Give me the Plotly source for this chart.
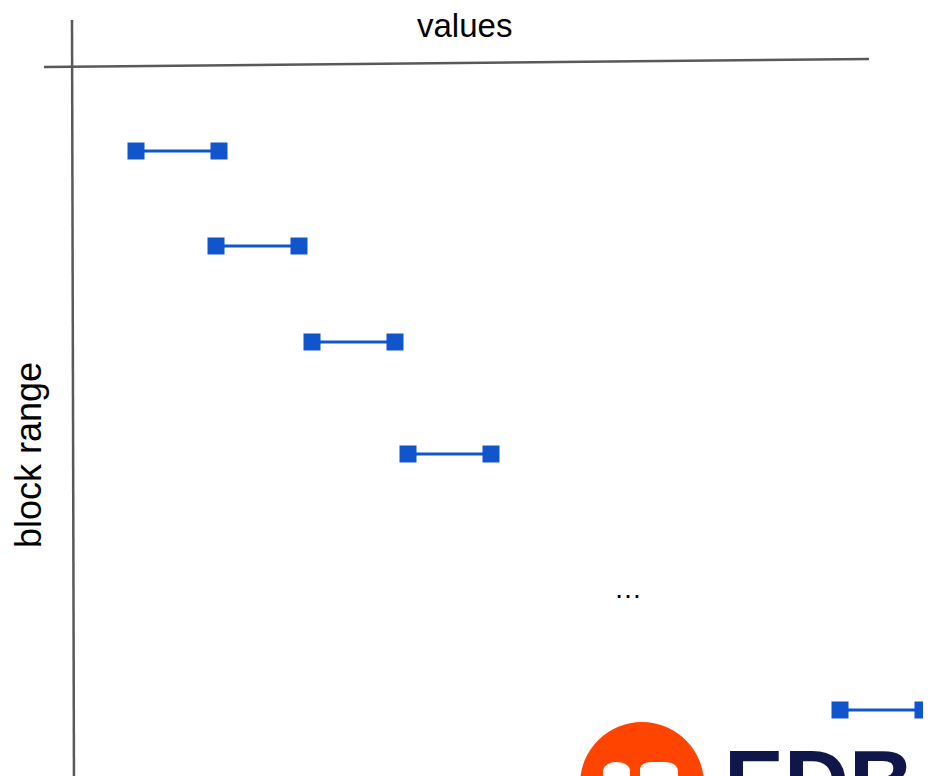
import plotly.graph_objects as go

# diagram data (in the diagram's own value units)
block_start = [136, 216, 312, 408, 840]
block_end = [219, 299, 395, 491, 923]
block_row = [151, 246, 342, 454, 710]

x_title = "values"
y_title = "block range"
gap_label = "…"
logo_text = "EDB"

W, H = 931, 776
OFF = 8  # page body margin
BLUE = "#1155CC"
AXIS = "#595959"

fig = go.Figure()
for s, e, r in zip(block_start, block_end, block_row):
    fig.add_trace(go.Scatter(
        x=[s, e], y=[r, r], mode="lines+markers",
        line=dict(color=BLUE, width=3),
        marker=dict(symbol="square", size=17, color=BLUE),
        cliponaxis=False,
        hoverinfo="skip", showlegend=False,
    ))

shapes = [
    dict(type="line", x0=44, y0=67, x1=869, y1=59, xref="x", yref="y",
         line=dict(color=AXIS, width=2.5)),
    dict(type="line", x0=72, y0=20, x1=74, y1=790, xref="x", yref="y",
         line=dict(color=AXIS, width=2.5)),
    # logo circle
    dict(type="circle", x0=580, y0=722, x1=704, y1=846, xref="x", yref="y",
         fillcolor="#FF4400", line=dict(width=0), layer="above"),
    dict(type="path", path="M 603 790 L 603 770 Q 606 762 616 762 Q 628 762 630 770 L 630 790 Z",
         xref="x", yref="y", fillcolor="white", line=dict(width=0), layer="above"),
    dict(type="path", path="M 640 790 L 640 768 Q 642 762 652 762 L 666 762 Q 678 763 678 772 L 678 790 Z",
         xref="x", yref="y", fillcolor="white", line=dict(width=0), layer="above"),
]

annotations = [
    dict(x=464, y=25, xref="x", yref="y", text=x_title, showarrow=False,
         font=dict(family="Liberation Sans, Arial", size=33, color="#000000")),
    dict(x=28, y=455, xref="x", yref="y", text=y_title, showarrow=False, textangle=-90,
         font=dict(family="Liberation Sans, Arial", size=36, color="#000000")),
    dict(x=628, y=588, xref="x", yref="y", text=gap_label, showarrow=False,
         font=dict(family="Liberation Sans, Arial", size=28, color="#000000")),
    dict(x=722, y=731, xref="x", yref="y", text="<b>" + logo_text + "</b>", showarrow=False,
         xanchor="left", yanchor="top",
         font=dict(family="Liberation Sans, Arial", size=90, color="#10154A")),
]

FIG_H = H - OFF
fig.update_layout(
    width=W - OFF, height=FIG_H,
    margin=dict(l=0, r=0, t=0, b=0),
    paper_bgcolor="white", plot_bgcolor="white",
    xaxis=dict(range=[OFF, W], visible=False, fixedrange=True),
    yaxis=dict(range=[OFF + FIG_H, OFF], visible=False, fixedrange=True),
    shapes=shapes, annotations=annotations,
)

fig.write_html("out.html")
